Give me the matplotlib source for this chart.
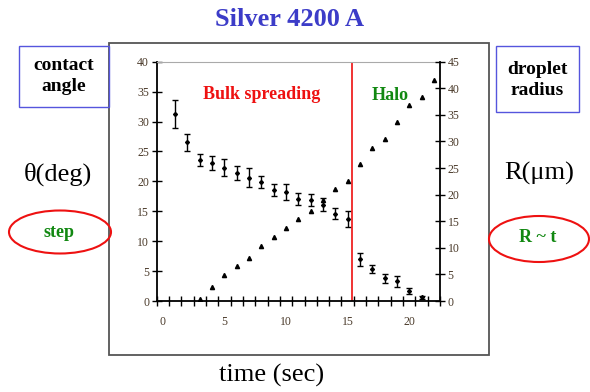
import matplotlib
matplotlib.use("Agg")
from matplotlib import pyplot as plt, patches
import numpy as np

# contact angle (left axis) with error bars
t_theta = [1, 2, 3, 4, 5, 6, 7, 8, 9, 10, 11, 12, 13, 14, 15, 16, 17, 18, 19, 20, 21]
theta = [31.3, 26.5, 23.6, 23.1, 22.3, 21.4, 20.6, 19.9, 18.6, 18.2, 17.1, 16.9, 16.1, 14.6, 13.7,
         7.0, 5.3, 3.8, 3.3, 1.6, 0.6]
theta_err = [2.3, 1.4, 1.0, 1.2, 1.4, 1.2, 1.6, 1.0, 1.0, 1.3, 1.0, 1.0, 1.1, 0.9, 1.3,
             1.1, 0.7, 0.75, 0.9, 0.5, 0.3]

# droplet radius (right axis)
t_radius = [3, 4, 5, 6, 7, 8, 9, 10, 11, 12, 13, 14, 15, 16, 17, 18, 19, 20, 21, 22]
radius = [0.3, 2.6, 4.9, 6.5, 8.0, 10.4, 12.1, 13.7, 15.4, 16.9, 18.9, 21.0, 22.5,
          25.8, 28.8, 30.5, 33.7, 36.8, 38.4, 41.6]

t_halo = 15.35
x_labels = [0, 5, 10, 15, 20]
left_ticks = [0, 5, 10, 15, 20, 25, 30, 35, 40]
right_ticks = [0, 5, 10, 15, 20, 25, 30, 35, 40, 45]

plt.rcParams['font.family'] = ['Liberation Serif', 'DejaVu Serif']
W, H = 590, 392
fig = plt.figure(figsize=(W / 100, H / 100), dpi=100)

# background layer in pixel coordinates for the slide decorations
bg = fig.add_axes([0, 0, 1, 1], zorder=0)
bg.set_xlim(0, W)
bg.set_ylim(H, 0)
bg.axis('off')

bg.add_patch(patches.Rectangle((109, 43), 380, 312, fill=False, ec='#555555', lw=1.3))
bg.add_patch(patches.Rectangle((19, 46), 90, 61, fill=False, ec='#5555dd', lw=1))
bg.add_patch(patches.Rectangle((496, 46), 83, 66, fill=False, ec='#5555dd', lw=1))
bg.add_patch(patches.Ellipse((60, 232), 102, 43, fill=False, ec='#ee1111', lw=1.5))
bg.add_patch(patches.Ellipse((539, 239), 100, 46, fill=False, ec='#ee1111', lw=1.5))

bg.text(290, 19, 'Silver 4200 A', ha='center', va='center', fontsize=19,
        fontweight='bold', color='#3c3cc8')
bg.text(64, 76, 'contact\nangle', ha='center', va='center', fontsize=14,
        fontweight='bold', linespacing=1.3)
bg.text(537, 80, 'droplet\nradius', ha='center', va='center', fontsize=14,
        fontweight='bold', linespacing=1.3)
bg.text(58, 174, 'θ(deg)', ha='center', va='center', fontsize=19)
bg.text(539, 173, 'R(μm)', ha='center', va='center', fontsize=19)
bg.text(59, 232, 'step', ha='center', va='center', fontsize=13,
        fontweight='bold', color='#118811')
bg.text(538, 237, 'R ~ t', ha='center', va='center', fontsize=13,
        fontweight='bold', color='#118811')
bg.text(272, 375, 'time (sec)', ha='center', va='center', fontsize=19)

# main chart
ax = fig.add_axes([156.7 / W, 1 - 301 / H, (440 - 156.7) / W, (301 - 61.7) / H], zorder=2)
ax.errorbar(t_theta, theta, yerr=theta_err, fmt='D', ms=2, color='black',
            ecolor='black', elinewidth=1, capsize=2.5, capthick=1)
ax.set_xlim(-0.5, 22.5)
ax.set_ylim(0, 40)
ax.axvline(t_halo, color='#ee1111', lw=1.2)

ax2 = ax.twinx()
ax2.plot(t_radius, radius, '^', ms=3, color='black')
ax2.set_ylim(0, 45)

lab_color = '#4a3a2a'
for a in (ax, ax2):
    for s in a.spines.values():
        s.set_visible(False)

ax.spines['left'].set_visible(True)
ax.spines['bottom'].set_visible(True)
ax2.spines['right'].set_visible(True)
ax.spines['top'].set_visible(True)
ax.spines['top'].set_color('#aaaaaa')
for name in ('left', 'bottom'):
    ax.spines[name].set_linewidth(1.3)
ax2.spines['right'].set_linewidth(1.3)

ax.set_yticks(left_ticks)
ax.tick_params(axis='y', direction='inout', length=7, width=1, labelsize=8.5,
               labelcolor=lab_color, pad=2)
ax2.set_yticks(right_ticks)
ax2.tick_params(axis='y', direction='inout', length=7, width=1, labelsize=8.5,
                labelcolor=lab_color, pad=2)

ax.set_xticks(x_labels)
ax.set_xticks(np.arange(-0.5, 23, 1.0), minor=True)
ax.tick_params(axis='x', which='major', length=0, labelsize=8.5, labelcolor=lab_color, pad=11)
ax.tick_params(axis='x', which='minor', direction='inout', length=7, width=1)

ax.text(262, 94, 'Bulk spreading', transform=bg.transData, ha='center', va='center',
        fontsize=13, fontweight='bold', color='#ee1111')
ax.text(390, 95, 'Halo', transform=bg.transData, ha='center', va='center',
        fontsize=13, fontweight='bold', color='#118811')

fig.savefig('out.png', dpi=100)
